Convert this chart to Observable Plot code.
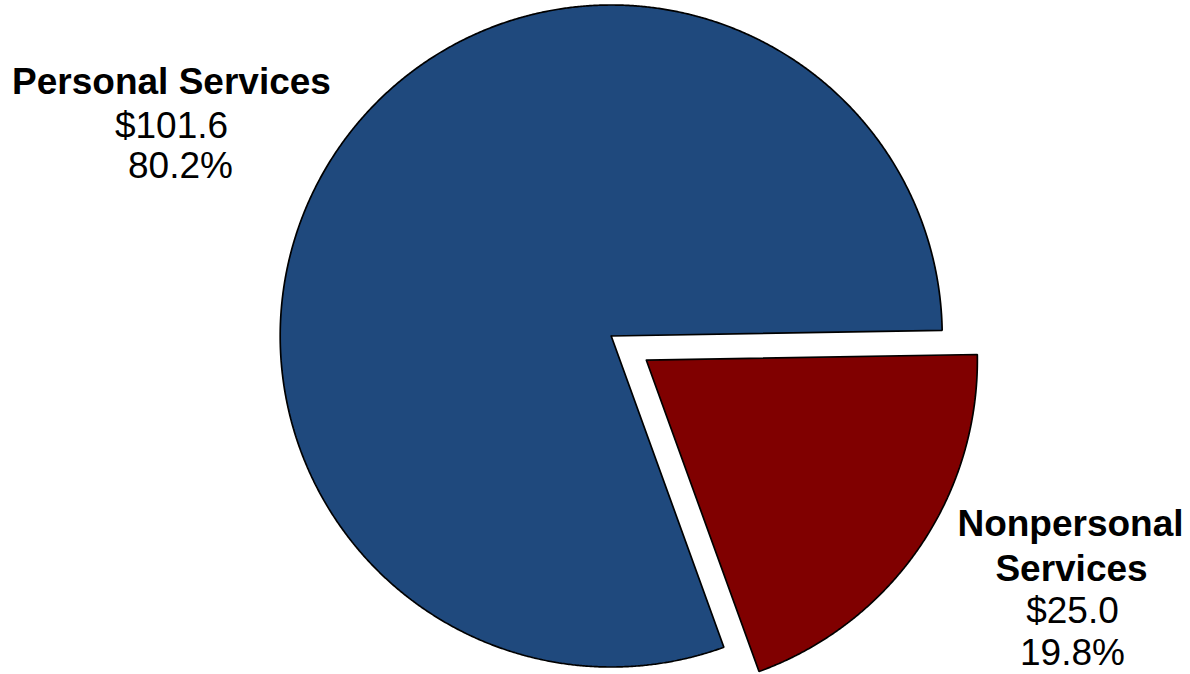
<!DOCTYPE html>
<html>
<head>
<meta charset="utf-8">
<script src="https://cdn.jsdelivr.net/npm/d3@7"></script>
<script src="https://cdn.jsdelivr.net/npm/@observablehq/plot@0.6"></script>
<style>
  html, body { margin: 0; padding: 0; background: #fff; }
  #chart svg { display: block; }
</style>
</head>
<body>
<div id="chart"></div>
<script>
// ---- data ----
const categories = ["Personal Services", "Nonpersonal Services"];
const nameLines = [["Personal Services"], ["Nonpersonal", "Services"]];
const amounts = [101.6, 25.0];
const percentLabels = ["80.2%", "19.8%"];
const exploded = [false, true];

// ---- styles / layout ----
const colors = ["#1F497D", "#800000"];
const W = 1190, H = 674;
const cx = 610.7, cy = 335.5, R = 331;
const startDeg = 160.1;          // clockwise from 12 o'clock
const explodeFrac = 0.129;       // fraction of radius
// per label, per line: [center x, baseline y] in pixels
const labelLayout = [
  {names: [[171, 93]], amount: [171, 137.5], percent: [180, 177]},
  {names: [[1070, 535], [1071, 580]], amount: [1072, 622], percent: [1072, 664]}
];

const sx = d3.scaleLinear().domain([-1, 1]).range([cx - R, cx + R]);
const sy = d3.scaleLinear().domain([-1, 1]).range([cy + R, cy - R]);

const start = startDeg * Math.PI / 180;
const arcs = d3.pie().sort(null).startAngle(start).endAngle(start + 2 * Math.PI)(amounts);

const points = [];
arcs.forEach((a, i) => {
  const mid = (a.startAngle + a.endAngle) / 2;
  const off = exploded[i] ? explodeFrac : 0;
  const ox = off * Math.sin(mid), oy = off * Math.cos(mid);
  const key = categories[i];
  points.push({key, x: ox, y: oy});
  const n = Math.ceil((a.endAngle - a.startAngle) / (Math.PI / 720));
  for (let k = 0; k <= n; k++) {
    const t = a.startAngle + (a.endAngle - a.startAngle) * k / n;
    points.push({key, x: ox + Math.sin(t), y: oy + Math.cos(t)});
  }
  points.push({key, x: ox, y: oy});
});

const pos = p => ({x: sx.invert(p[0]), y: sy.invert(p[1])});
const boldTexts = [], plainTexts = [];
categories.forEach((c, i) => {
  const L = labelLayout[i];
  nameLines[i].forEach((t, j) => boldTexts.push({key: c, text: t, ...pos(L.names[j])}));
  plainTexts.push({key: c, text: "$" + amounts[i].toFixed(1), ...pos(L.amount)});
  plainTexts.push({key: c, text: percentLabels[i], ...pos(L.percent)});
});

const font = "'Liberation Sans', Arial, Helvetica, sans-serif";

const chart = Plot.plot({
  width: W, height: H,
  margin: 0,
  x: {domain: [-1, 1], range: [cx - R, cx + R], axis: null},
  y: {domain: [-1, 1], range: [cy + R, cy - R], axis: null},
  color: {domain: categories, range: colors},
  style: {background: "#fff", fontFamily: font, overflow: "visible"},
  marks: [
    Plot.line(points, {x: "x", y: "y", z: "key", fill: "key", stroke: "#000", strokeWidth: 1.7, strokeLinejoin: "miter", curve: "linear"}),
    Plot.text(boldTexts, {x: "x", y: "y", text: "text", fontSize: 37, fontWeight: "bold", fill: "#000", lineAnchor: "bottom", textAnchor: "middle"}),
    Plot.text(plainTexts, {x: "x", y: "y", text: "text", fontSize: 37, fill: "#000", lineAnchor: "bottom", textAnchor: "middle"})
  ]
});
document.getElementById("chart").appendChild(chart);
</script>
</body>
</html>
